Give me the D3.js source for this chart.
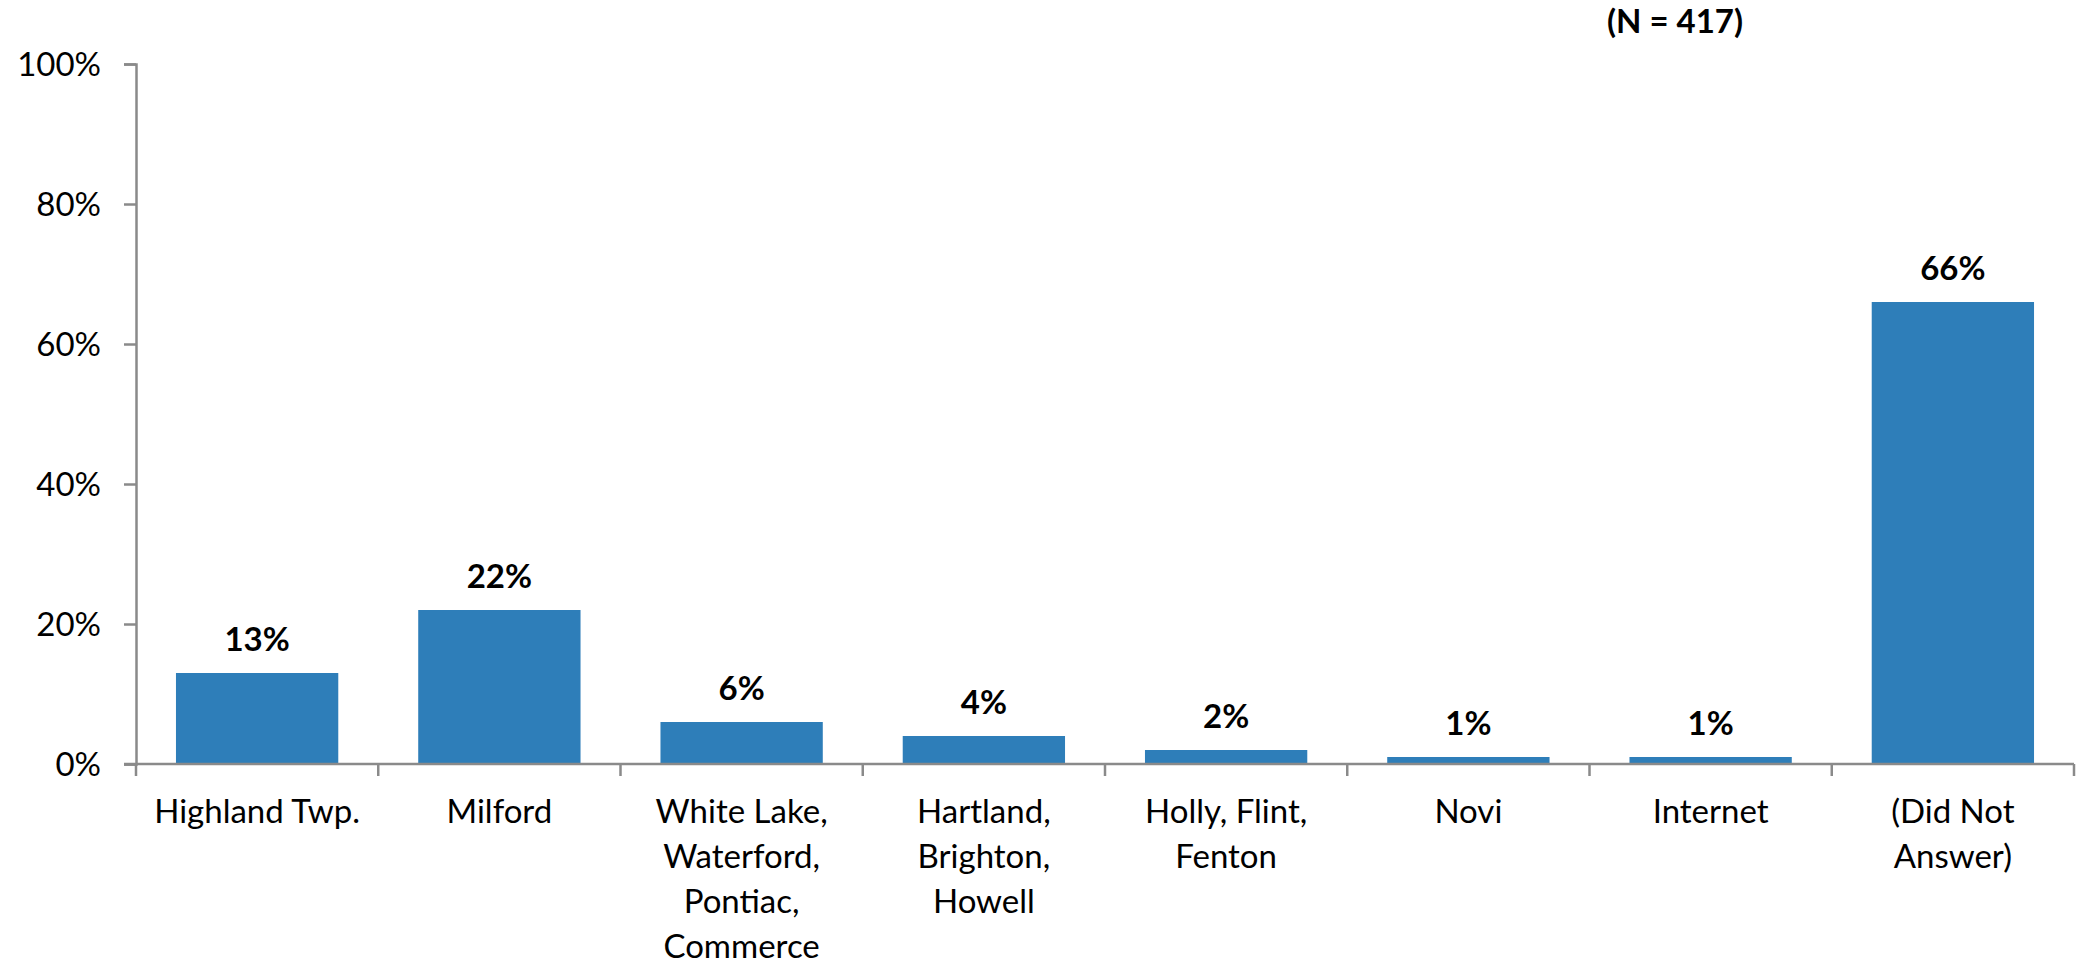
<!DOCTYPE html>
<html>
<head>
<meta charset="utf-8">
<script src="https://cdn.jsdelivr.net/npm/d3@7"></script>
<style>
  html, body { margin: 0; padding: 0; background: #ffffff; }
  svg { display: block; }
  text { font-family: Lato, "Open Sans", sans-serif; fill: #000; }
</style>
</head>
<body>
<svg id="chart" width="2077" height="964"></svg>
<script>
const categories = [
  ["Highland Twp."],
  ["Milford"],
  ["White Lake,", "Waterford,", "Pontiac,", "Commerce"],
  ["Hartland,", "Brighton,", "Howell"],
  ["Holly, Flint,", "Fenton"],
  ["Novi"],
  ["Internet"],
  ["(Did Not", "Answer)"]
];
const values = [13, 22, 6, 4, 2, 1, 1, 66];
const yTicks = [0, 20, 40, 60, 80, 100];
const subtitle = "(N = 417)";

const svg = d3.select("#chart");
const margin = { left: 136, right: 3, top: 64, bottom: 200 };
const W = 2077, H = 964;
const plotBottom = 764;

const x = d3.scaleBand()
  .domain(d3.range(categories.length))
  .range([margin.left, W - margin.right])
  .paddingInner(0.33)
  .paddingOuter(0.165);

const y = d3.scaleLinear().domain([0, 100]).range([plotBottom, margin.top]);

const axisColor = "#8a8a8a";
const fontSize = 33;

// bars
svg.append("g").selectAll("rect")
  .data(values)
  .join("rect")
  .attr("x", (d, i) => x(i))
  .attr("y", d => y(d))
  .attr("width", x.bandwidth())
  .attr("height", d => y(0) - y(d))
  .attr("fill", "#2e7eb9");

// y axis
const yAxis = svg.append("g")
  .attr("transform", `translate(${margin.left},0)`)
  .call(d3.axisLeft(y).tickValues(yTicks).tickFormat(d => d + "%").tickSize(12).tickPadding(23));
yAxis.select(".domain").attr("stroke", axisColor).attr("stroke-width", 2.5);
yAxis.selectAll(".tick line").attr("stroke", axisColor).attr("stroke-width", 2.5);
yAxis.selectAll(".tick text")
  .attr("font-size", fontSize)
  .attr("font-family", "Lato, 'Open Sans', sans-serif")
  .attr("fill", "#000")
  .attr("dy", "0.36em");

// x axis line and category dividers
const step = x.step();
const xStart = margin.left, xEnd = W - margin.right;
const xAxisG = svg.append("g");
xAxisG.append("line")
  .attr("x1", xStart - 12).attr("x2", xEnd)
  .attr("y1", plotBottom).attr("y2", plotBottom)
  .attr("stroke", axisColor).attr("stroke-width", 2.5);
xAxisG.selectAll("line.div")
  .data(d3.range(categories.length + 1))
  .join("line")
  .attr("class", "div")
  .attr("x1", i => xStart + i * step)
  .attr("x2", i => xStart + i * step)
  .attr("y1", plotBottom)
  .attr("y2", plotBottom + 12)
  .attr("stroke", axisColor).attr("stroke-width", 2.5);

// category labels
const labelG = svg.append("g");
categories.forEach((lines, i) => {
  const t = labelG.append("text")
    .attr("x", x(i) + x.bandwidth() / 2)
    .attr("y", 823)
    .attr("text-anchor", "middle")
    .attr("font-size", fontSize);
  lines.forEach((ln, j) => {
    t.append("tspan")
      .attr("x", x(i) + x.bandwidth() / 2)
      .attr("dy", j === 0 ? 0 : 45)
      .text(ln);
  });
});

// value labels
svg.append("g").selectAll("text")
  .data(values)
  .join("text")
  .attr("x", (d, i) => x(i) + x.bandwidth() / 2)
  .attr("y", d => y(d) - 22)
  .attr("text-anchor", "middle")
  .attr("font-size", fontSize)
  .attr("font-weight", "bold")
  .text(d => d + "%");

// subtitle
svg.append("text")
  .attr("x", 1675)
  .attr("y", 33)
  .attr("text-anchor", "middle")
  .attr("font-size", fontSize)
  .attr("font-weight", "bold")
  .text(subtitle);
</script>
</body>
</html>
